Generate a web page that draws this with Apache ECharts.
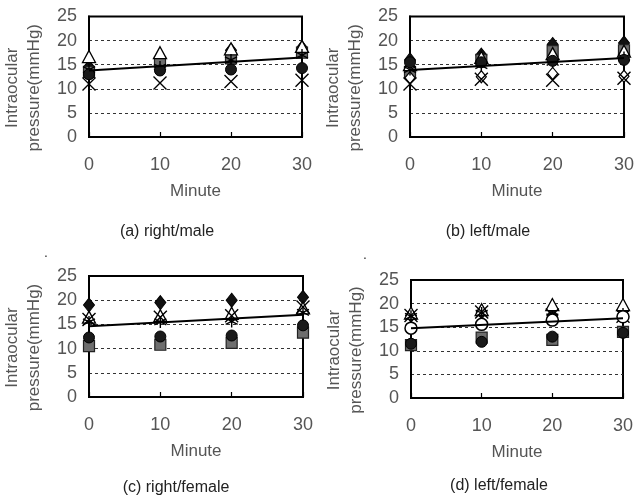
<!DOCTYPE html>
<html>
<head>
<meta charset="utf-8">
<script src="https://cdn.jsdelivr.net/npm/echarts@6/dist/echarts.min.js"></script>
<style>
html, body { margin: 0; padding: 0; background: #fff; }
#main { width: 637px; height: 499px; }
</style>
</head>
<body>
<div id="main"></div>
<script>
// x 轴: 分钟
var minutes = [0, 10, 20, 30];
var trendMinutes = [0, 30];

// (a) right/male
var rightMaleDiamond = [14.5, 15.5, 18.0, 18.5];
var rightMaleSquare = [13.5, 15.5, 16.3, 17.5];
var rightMaleTriangle = [16.7, 17.5, 18.3, 18.8];
var rightMaleCross = [11.0, 11.2, 11.5, 11.8];
var rightMaleStar = [14.0, 14.5, 16.0, 17.0];
var rightMaleCircle = [13.0, 13.8, 14.0, 14.3];
var rightMaleOpenDiamond = [];
var rightMaleOpenCircle = [];
var rightMaleTrend = [13.8, 16.5];

// (b) left/male
var leftMaleDiamond = [16.0, 17.0, 19.2, 19.5];
var leftMaleSquare = [13.5, 16.0, 17.8, 18.0];
var leftMaleTriangle = [15.0, 16.5, 17.3, 17.8];
var leftMaleCross = [11.0, 12.0, 11.8, 12.2];
var leftMaleStar = [14.0, 14.8, 15.5, 16.5];
var leftMaleCircle = [15.5, 15.5, 15.8, 16.0];
var leftMaleOpenDiamond = [12.3, 12.5, 13.2, 12.6];
var leftMaleOpenCircle = [];
var leftMaleTrend = [13.9, 16.4];

// (c) right/female
var rightFemaleDiamond = [19.0, 19.5, 20.0, 20.6];
var rightFemaleSquare = [10.5, 10.8, 11.2, 13.3];
var rightFemaleTriangle = [16.5, 16.8, 17.3, 18.4];
var rightFemaleCross = [16.0, 16.5, 16.8, 18.6];
var rightFemaleStar = [15.5, 15.5, 15.6, 17.5];
var rightFemaleCircle = [12.3, 12.5, 12.7, 14.8];
var rightFemaleOpenDiamond = [];
var rightFemaleOpenCircle = [];
var rightFemaleTrend = [14.6, 17.0];

// (d) left/female
var leftFemaleDiamond = [17.5, 18.2, 17.5, 17.5];
var leftFemaleSquare = [11.2, 12.8, 12.3, 14.0];
var leftFemaleTriangle = [18.0, 18.7, 19.8, 19.8];
var leftFemaleCross = [17.5, 18.2, 17.6, 17.3];
var leftFemaleStar = [17.3, 18.0, 17.2, 17.8];
var leftFemaleCircle = [11.5, 11.9, 13.0, 13.8];
var leftFemaleOpenDiamond = [];
var leftFemaleOpenCircle = [14.8, 15.6, 16.5, 17.2];
var leftFemaleTrend = [14.8, 16.9];

var captions = ['(a) right/male', '(b) left/male', '(c) right/female', '(d) left/female'];

var panels = [
    [rightMaleDiamond, rightMaleSquare, rightMaleTriangle, rightMaleOpenDiamond, rightMaleCross, rightMaleStar, rightMaleCircle, rightMaleOpenCircle, rightMaleTrend],
    [leftMaleDiamond, leftMaleSquare, leftMaleTriangle, leftMaleOpenDiamond, leftMaleCross, leftMaleStar, leftMaleCircle, leftMaleOpenCircle, leftMaleTrend],
    [rightFemaleDiamond, rightFemaleSquare, rightFemaleTriangle, rightFemaleOpenDiamond, rightFemaleCross, rightFemaleStar, rightFemaleCircle, rightFemaleOpenCircle, rightFemaleTrend],
    [leftFemaleDiamond, leftFemaleSquare, leftFemaleTriangle, leftFemaleOpenDiamond, leftFemaleCross, leftFemaleStar, leftFemaleCircle, leftFemaleOpenCircle, leftFemaleTrend]
];

var chart = echarts.init(document.getElementById('main'));

var FONT = 'Liberation Sans';
var GRAY = '#555';

// 每个小图的绘图区
var grids = [
    { left: 86, top: 16, width: 216, height: 121 },
    { left: 410, top: 15, width: 215, height: 122 },
    { left: 89, top: 276, width: 214, height: 121 },
    { left: 411, top: 280, width: 212, height: 118 }
];
// 标题位置
var captionPos = [[167, 232], [488, 232], [176, 488], [499, 486]];

// 标记样式 (顺序与 panels 中数组一致)
var markers = [
    { symbol: 'diamond', size: [11, 14], style: { color: '#111', borderColor: '#000', borderWidth: 1 } },
    { symbol: 'rect', size: 11, style: { color: '#6e6e6e', borderColor: '#222', borderWidth: 1.2 } },
    { symbol: 'triangle', size: [13, 12], style: { color: '#fff', borderColor: '#000', borderWidth: 1.3 } },
    { symbol: 'diamond', size: [10, 12], style: { color: '#fff', borderColor: '#000', borderWidth: 1.2 } },
    { symbol: 'path://M0,0L10,10M10,0L0,10', size: 13, style: { color: 'transparent', borderColor: '#000', borderWidth: 1.4 } },
    { symbol: 'path://M5,0L5,10M0,2.5L10,7.5M0,7.5L10,2.5', size: 12, style: { color: 'transparent', borderColor: '#000', borderWidth: 1.4 } },
    { symbol: 'circle', size: 11, style: { color: '#1a1a1a', borderColor: '#000', borderWidth: 1 } },
    { symbol: 'circle', size: 12, style: { color: '#fff', borderColor: '#000', borderWidth: 1.5 } }
];

var xAxes = [], yAxes = [], gridList = [], series = [], graphics = [];

grids.forEach(function (g, i) {
    gridList.push({
        left: g.left, top: g.top, width: g.width, height: g.height,
        show: true, borderColor: '#000', borderWidth: 2, backgroundColor: '#fff'
    });
    xAxes.push({
        gridIndex: i, type: 'value', min: 0, max: 30, interval: 10,
        name: 'Minute', nameLocation: 'middle', nameGap: 46,
        nameTextStyle: { fontFamily: FONT, fontSize: 17, color: GRAY },
        axisLine: { lineStyle: { color: '#000', width: 2 } },
        axisTick: { inside: true, length: 5, lineStyle: { color: '#000', width: 1.2 } },
        axisLabel: { margin: 19, fontFamily: FONT, fontSize: 18, color: GRAY },
        splitLine: { show: false }
    });
    yAxes.push({
        gridIndex: i, type: 'value', min: 0, max: 25, interval: 5,
        name: 'Intraocular\npressure(mmHg)', nameLocation: 'middle', nameGap: 44, nameRotate: 90,
        nameTextStyle: { fontFamily: FONT, fontSize: 17, color: GRAY, lineHeight: 22, padding: [0, 22, 0, 0] },
        axisLine: { lineStyle: { color: '#000', width: 2 } },
        axisTick: { show: false },
        axisLabel: { margin: 12, fontFamily: FONT, fontSize: 18, color: GRAY },
        splitLine: { showMinLine: false, showMaxLine: false, lineStyle: { color: '#333', width: 1, type: [3, 3] } }
    });

    var data = panels[i];
    for (var k = 0; k < markers.length; k++) {
        var vals = data[k];
        if (!vals.length) continue;
        series.push({
            type: 'scatter', xAxisIndex: i, yAxisIndex: i,
            symbol: markers[k].symbol, symbolSize: markers[k].size,
            itemStyle: Object.assign({ opacity: 1 }, markers[k].style),
            data: minutes.map(function (m, j) { return [m, vals[j]]; })
        });
    }
    // 趋势线
    var trend = data[markers.length];
    series.push({
        type: 'line', xAxisIndex: i, yAxisIndex: i, symbol: 'none',
        lineStyle: { color: '#000', width: 2 },
        data: trendMinutes.map(function (m, j) { return [m, trend[j]]; })
    });

    graphics.push({
        type: 'text', x: captionPos[i][0], y: captionPos[i][1],
        style: { text: captions[i], fontFamily: FONT, fontSize: 16, fill: '#222', textAlign: 'center', textVerticalAlign: 'middle' }
    });
});

// 下排图上方的小点
graphics.push({ type: 'text', x: 46, y: 253, style: { text: '.', fontFamily: FONT, fontSize: 14, fill: '#333', textAlign: 'center', textVerticalAlign: 'middle' } });
graphics.push({ type: 'text', x: 365, y: 255, style: { text: '.', fontFamily: FONT, fontSize: 14, fill: '#333', textAlign: 'center', textVerticalAlign: 'middle' } });

var option = {
    animation: false,
    backgroundColor: '#fff',
    grid: gridList,
    xAxis: xAxes,
    yAxis: yAxes,
    series: series,
    graphic: graphics
};

chart.setOption(option);
</script>
</body>
</html>
